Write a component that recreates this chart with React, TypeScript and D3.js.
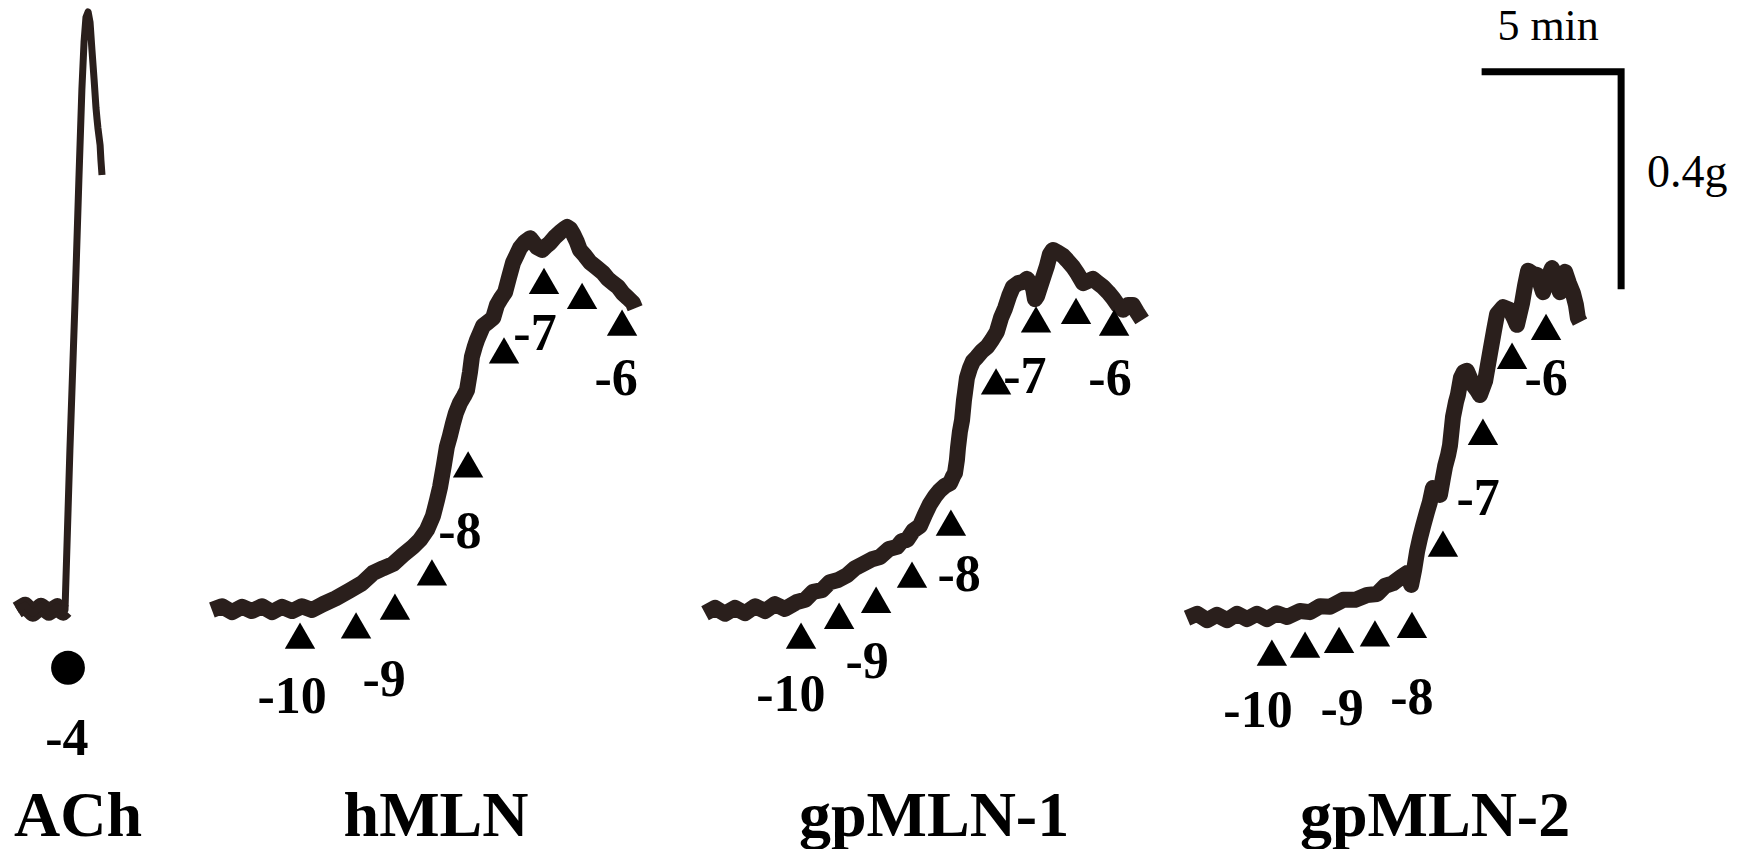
import React from 'react';
import * as d3 from 'd3';

// recording time (min) vs tension (g)
const achTrace: [number, number][] = [
  [0.63, 0], [0.92, 0.009], [1.21, -0.006], [1.51, 0.007], [1.8, -0.004], [2.1, 0.006], [2.32, -0.004],
  [2.39, 0], [2.57, 0.299], [2.76, 0.579], [2.9, 0.804], [3.01, 0.972], [3.09, 1.062], [3.16, 1.108],
  [3.24, 1.118], [3.31, 1.099], [3.38, 1.047], [3.46, 0.991], [3.53, 0.938], [3.57, 0.916], [3.6, 0.901],
  [3.68, 0.869], [3.71, 0.841], [3.75, 0.813],
];

const hmlnTrace: [number, number][] = [
  [7.79, 0], [8.16, 0.007], [8.53, -0.004], [8.9, 0.006], [9.26, -0.002], [9.63, 0.007], [10.0, -0.004],
  [10.37, 0.006], [10.74, -0.002], [11.1, 0.007], [11.47, 0], [11.88, 0.011], [12.35, 0.022], [12.87, 0.037],
  [13.31, 0.05], [13.71, 0.069], [14.08, 0.078], [14.45, 0.086], [14.82, 0.103], [15.18, 0.118], [15.44, 0.131],
  [15.7, 0.15], [15.92, 0.176], [16.07, 0.206], [16.18, 0.23], [16.32, 0.271], [16.43, 0.305], [16.54, 0.325],
  [16.65, 0.348], [16.76, 0.368], [16.91, 0.387], [17.06, 0.4], [17.17, 0.411], [17.28, 0.445], [17.35, 0.473],
  [17.46, 0.493], [17.54, 0.505], [17.65, 0.518], [17.76, 0.531], [17.94, 0.538], [18.13, 0.546], [18.27, 0.57],
  [18.42, 0.583], [18.57, 0.594], [18.71, 0.621], [18.86, 0.649], [19.01, 0.665], [19.12, 0.677], [19.3, 0.688],
  [19.49, 0.695], [19.63, 0.686], [19.74, 0.678], [19.93, 0.673], [20.07, 0.68], [20.22, 0.686], [20.4, 0.697],
  [20.59, 0.706], [20.74, 0.712], [20.85, 0.716], [20.96, 0.712], [21.07, 0.703], [21.21, 0.688], [21.32, 0.673],
  [21.51, 0.662], [21.69, 0.65], [21.91, 0.641], [22.17, 0.63], [22.35, 0.619], [22.54, 0.611], [22.72, 0.604],
  [22.9, 0.592], [23.09, 0.583], [23.27, 0.574], [23.35, 0.564],
];

const gp1Trace: [number, number][] = [
  [25.92, -0.006], [26.29, 0.004], [26.65, -0.007], [27.02, 0.004], [27.39, -0.006], [27.76, 0.007],
  [28.13, -0.002], [28.49, 0.011], [28.86, 0.002], [29.3, 0.015], [29.6, 0.019], [29.89, 0.034], [30.22, 0.037],
  [30.51, 0.052], [30.81, 0.056], [31.14, 0.065], [31.43, 0.078], [31.73, 0.086], [32.06, 0.095], [32.35, 0.099],
  [32.68, 0.114], [32.98, 0.118], [33.16, 0.129], [33.35, 0.131], [33.57, 0.148], [33.82, 0.157], [34.01, 0.179],
  [34.19, 0.198], [34.38, 0.213], [34.56, 0.224], [34.74, 0.232], [34.93, 0.237], [35.04, 0.25], [35.11, 0.256],
  [35.18, 0.28], [35.22, 0.303], [35.29, 0.333], [35.37, 0.355], [35.44, 0.392], [35.48, 0.407], [35.55, 0.434],
  [35.66, 0.452], [35.77, 0.465], [35.92, 0.473], [36.1, 0.484], [36.29, 0.492], [36.47, 0.505], [36.65, 0.52],
  [36.8, 0.546], [36.95, 0.564], [37.1, 0.587], [37.24, 0.604], [37.43, 0.611], [37.61, 0.613], [37.76, 0.619],
  [37.87, 0.611], [37.98, 0.602], [38.05, 0.581], [38.13, 0.587], [38.24, 0.604], [38.38, 0.626], [38.49, 0.643],
  [38.6, 0.665], [38.71, 0.673], [38.86, 0.669], [39.08, 0.662], [39.23, 0.654], [39.45, 0.641], [39.6, 0.63],
  [39.82, 0.611], [40.0, 0.615], [40.18, 0.619], [40.37, 0.611], [40.55, 0.604], [40.74, 0.594], [40.92, 0.583],
  [41.1, 0.57], [41.29, 0.561], [41.47, 0.57], [41.65, 0.57], [41.8, 0.557], [41.99, 0.542],
];

const gp2Trace: [number, number][] = [
  [43.64, -0.015], [44.01, -0.007], [44.38, -0.019], [44.74, -0.009], [45.11, -0.019], [45.48, -0.007],
  [45.85, -0.017], [46.21, -0.007], [46.58, -0.017], [46.95, -0.006], [47.32, -0.013], [47.79, -0.002],
  [48.16, -0.004], [48.53, 0.007], [48.9, 0.006], [49.38, 0.019], [49.82, 0.019], [50.26, 0.028], [50.63, 0.03],
  [50.92, 0.045], [51.21, 0.05], [51.47, 0.06], [51.73, 0.069], [51.88, 0.047], [51.99, 0.075], [52.1, 0.11],
  [52.21, 0.135], [52.32, 0.157], [52.46, 0.183], [52.57, 0.202], [52.68, 0.228], [52.83, 0.221], [52.94, 0.215],
  [53.05, 0.247], [53.13, 0.269], [53.24, 0.29], [53.31, 0.308], [53.42, 0.361], [53.53, 0.389], [53.6, 0.402],
  [53.71, 0.434], [53.82, 0.445], [53.93, 0.447], [54.04, 0.434], [54.15, 0.421], [54.3, 0.411], [54.41, 0.402],
  [54.6, 0.428], [54.78, 0.48], [54.93, 0.523], [55.04, 0.553], [55.26, 0.566], [55.51, 0.561], [55.66, 0.546],
  [55.77, 0.533], [55.96, 0.574], [56.07, 0.607], [56.18, 0.634], [56.36, 0.628], [56.51, 0.626], [56.65, 0.607],
  [56.73, 0.594], [56.88, 0.617], [57.06, 0.639], [57.21, 0.617], [57.35, 0.594], [57.54, 0.632], [57.68, 0.611],
  [57.83, 0.592], [57.94, 0.57], [58.01, 0.546], [58.09, 0.538],
];

// where each dose was added: [time, level of the marker]
const achMarks: [number, number][] = [[2.5, -0.108]];
const hmlnMarks: [number, number][] = [
  [11.03, -0.056], [13.09, -0.037], [14.52, -0.002], [15.88, 0.062], [17.21, 0.264],
  [18.53, 0.477], [20.0, 0.607], [21.4, 0.579], [22.87, 0.529],
];
const gp1Marks: [number, number][] = [
  [29.45, -0.056], [30.85, -0.019], [32.21, 0.011], [33.53, 0.058], [34.96, 0.155],
  [36.62, 0.419], [38.09, 0.535], [39.56, 0.551], [40.96, 0.529],
];
const gp2Marks: [number, number][] = [
  [46.76, -0.088], [47.98, -0.073], [49.23, -0.064], [50.55, -0.052], [51.91, -0.036],
  [53.05, 0.116], [54.52, 0.325], [55.59, 0.467], [56.84, 0.521],
];

// log concentration labels
const doseLabels: { text: string; t: number; g: number }[] = [
  { text: '-4', t: 2.46, g: -0.271 },
  { text: '-10', t: 10.74, g: -0.193 },
  { text: '-9', t: 14.12, g: -0.161 },
  { text: '-8', t: 16.91, g: 0.116 },
  { text: '-7', t: 19.67, g: 0.486 },
  { text: '-6', t: 22.65, g: 0.402 },
  { text: '-10', t: 29.08, g: -0.189 },
  { text: '-9', t: 31.88, g: -0.127 },
  { text: '-8', t: 35.26, g: 0.036 },
  { text: '-7', t: 37.68, g: 0.406 },
  { text: '-6', t: 40.81, g: 0.402 },
  { text: '-10', t: 46.25, g: -0.219 },
  { text: '-9', t: 49.34, g: -0.215 },
  { text: '-8', t: 51.91, g: -0.194 },
  { text: '-7', t: 54.34, g: 0.178 },
  { text: '-6', t: 56.84, g: 0.402 },
];

const panelNames = ['ACh', 'hMLN', 'gpMLN-1', 'gpMLN-2'];
const panelTimes = [2.87, 16.03, 34.34, 52.76];
const panelLevel = -0.422;

const scaleBarMin = 5;
const scaleBarGram = 0.4;
const scaleBarStart: [number, number] = [54.6, 1.006];

const W = 1754;
const H = 849;

export default function App() {
  const x = d3.scaleLinear().domain([0, 5]).range([0, 136]);
  const y = d3.scaleLinear().domain([0, 0.4]).range([610, 396]);
  const line = d3.line<[number, number]>().x((d) => x(d[0])).y((d) => y(d[1]));
  const tri = d3.symbol().type(d3.symbolTriangle).size(400)() as string;
  const dot = d3.symbol().type(d3.symbolCircle).size(900)() as string;
  const ink = '#2a1f1c';
  const serif = '"Liberation Serif", "Times New Roman", serif';

  const bx0 = x(scaleBarStart[0]);
  const bx1 = x(scaleBarStart[0] + scaleBarMin);
  const by0 = y(scaleBarStart[1]);
  const by1 = y(scaleBarStart[1] - scaleBarGram);

  return (
    <svg width={W} height={H} style={{ position: 'absolute', left: 0, top: 0, background: '#fff' }}>
      <rect width={W} height={H} fill="#fff" />
      {/* ACh baseline is a noisy band, its rise a thin pen stroke */}
      <path d={line(achTrace.filter((d) => d[0] <= 2.4)) || ''} fill="none" stroke={ink} style={{ strokeWidth: 17 }} strokeLinejoin="round" />
      <path d={line(achTrace) || ''} fill="none" stroke={ink} style={{ strokeWidth: 7 }} strokeLinejoin="round" />
      {[hmlnTrace, gp1Trace, gp2Trace].map((tr, i) => (
        <path key={i} d={line(tr) || ''} fill="none" stroke={ink} style={{ strokeWidth: 16 }} strokeLinejoin="round" />
      ))}

      {achMarks.map((m, i) => (
        <path key={'c' + i} d={dot} transform={`translate(${x(m[0])},${y(m[1])})`} fill="#000" />
      ))}
      {[...hmlnMarks, ...gp1Marks, ...gp2Marks].map((m, i) => (
        <path key={'t' + i} d={tri} transform={`translate(${x(m[0])},${y(m[1])})`} fill="#000" />
      ))}

      {doseLabels.map((d, i) => (
        <text key={'d' + i} x={x(d.t)} y={y(d.g)} textAnchor="middle" fontFamily={serif} fontWeight="bold" fontSize={52} fill="#000">
          {d.text}
        </text>
      ))}

      {panelNames.map((n, i) => (
        <text key={n} x={x(panelTimes[i])} y={y(panelLevel)} textAnchor="middle" fontFamily={serif} fontWeight="bold" fontSize={64} fill="#000">
          {n}
        </text>
      ))}

      <path d={`M${bx0},${by0}H${bx1}V${by1}`} fill="none" stroke="#000" strokeWidth={7} strokeLinecap="square" strokeLinejoin="miter" />
      <text x={(bx0 + bx1) / 2 - 5} y={40} textAnchor="middle" fontFamily={serif} fontSize={44} fill="#000">
        5 min
      </text>
      <text x={bx1 + 26} y={187} fontFamily={serif} fontSize={46} fill="#000">
        0.4g
      </text>
    </svg>
  );
}
